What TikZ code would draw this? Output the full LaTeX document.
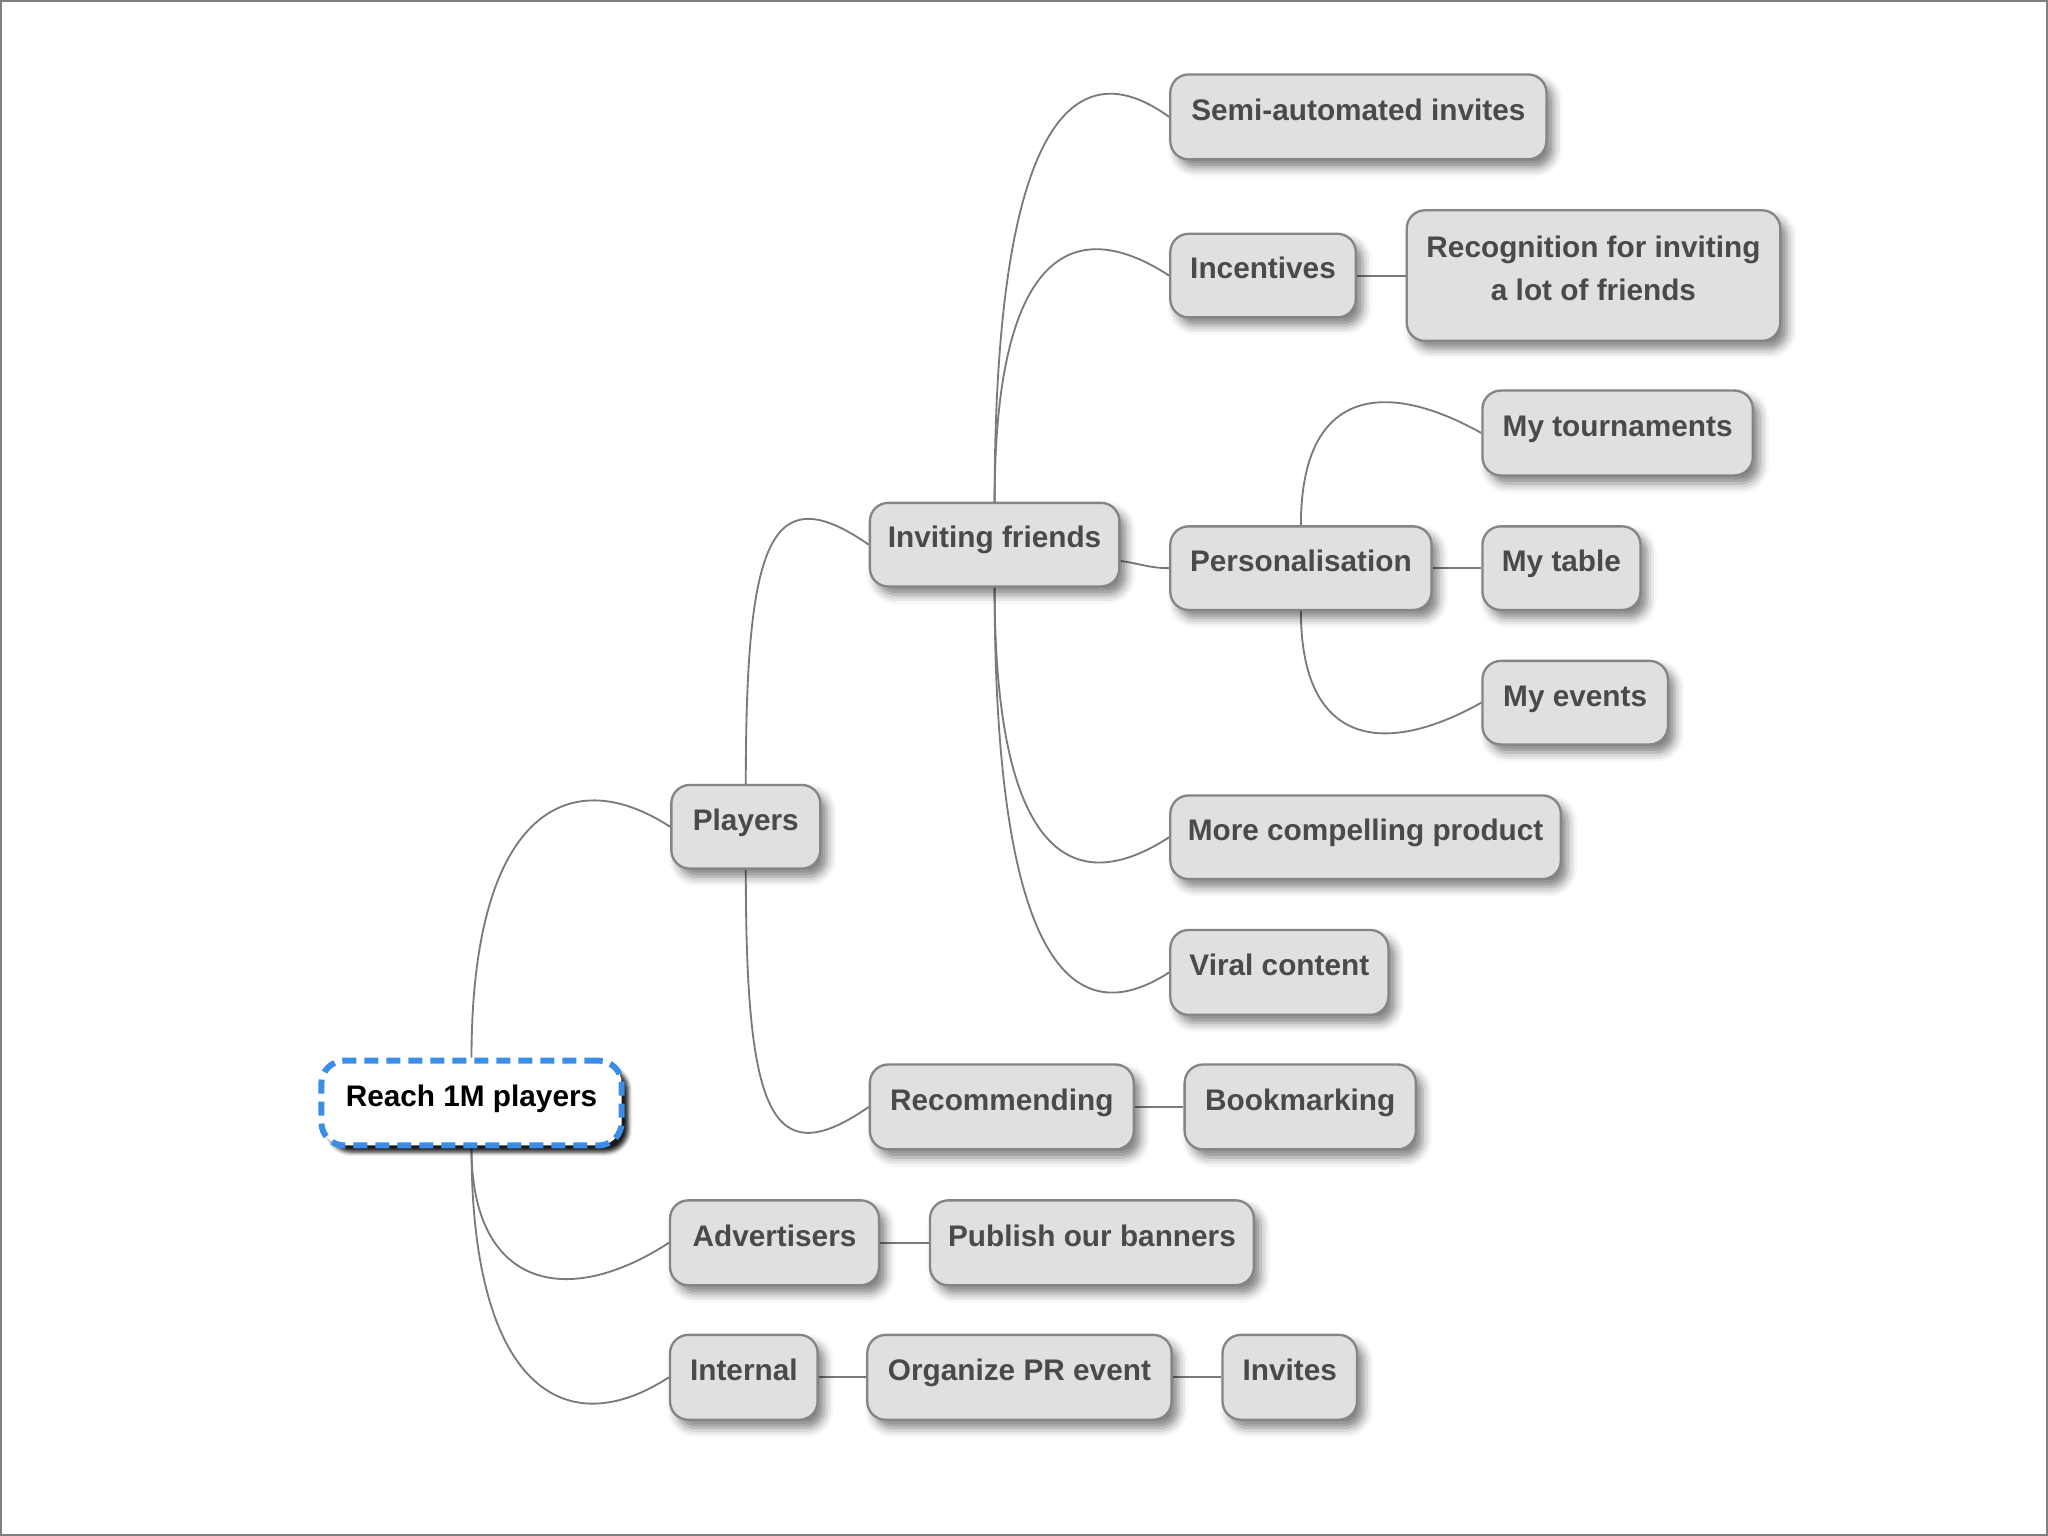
\documentclass[tikz,border=0pt]{standalone}
\usepackage{fontspec}
\newfontfamily\mmfamily{Liberation Sans}
\usetikzlibrary{shadows.blur}
\definecolor{boxgray}{HTML}{E0E0E0}
\definecolor{bordergray}{HTML}{858585}
\definecolor{textgray}{HTML}{4A4A4A}
\definecolor{linkgray}{HTML}{7A7A7A}
\definecolor{rootblue}{HTML}{3A8EE8}
\definecolor{framegray}{HTML}{7F7F7F}
\pgfdeclarelayer{background}
\pgfsetlayers{background,main}
\newcommand\mmbox[7]{\node[#1, minimum width={(#5-#3)*0.39184pt}, minimum height={(#6-#4)*0.39184pt}] (#2) at ({(#3+#5)/2},{(#4+#6)/2}) {#7};}
\tikzset{
  mmnode/.style={rectangle, rounded corners=5.5pt, draw=bordergray, line width=0.7pt,
    fill=boxgray, text=textgray, font=\mmfamily\bfseries\fontsize{8.93}{12.9}\selectfont,
    inner sep=0pt, text height=7pt, text depth=5pt,
    blur shadow={shadow xshift=2pt, shadow yshift=-2.4pt, shadow blur radius=2.8pt, shadow opacity=50}},
  mmmulti/.style={mmnode, text height={}, text depth={}, align=center},
  mmroot/.style={rectangle, rounded corners=7pt, draw=rootblue, line width=1.8pt,
    dash pattern=on 4.2pt off 2.4pt, fill=white, text=black,
    font=\mmfamily\bfseries\fontsize{8.93}{12.9}\selectfont,
    inner sep=0pt, text height=7pt, text depth=5pt,
    blur shadow={shadow xshift=2pt, shadow yshift=-2pt, shadow blur radius=1.2pt, shadow opacity=90}},
  mmlink/.style={draw=linkgray, line width=0.55pt},
}
\begin{document}
\begin{tikzpicture}[x=0.39184pt,y=-0.39184pt]
\useasboundingbox (0,0) rectangle (1568,1176);
\draw[framegray, line width=0.6pt] (0.75,0.75) rectangle (1567.25,1175.25);

\mmbox{mmroot}{root}{246}{812}{476}{877}{Reach 1M players}
\mmbox{mmnode}{players}{514}{601}{628}{665}{Players}
\mmbox{mmnode}{adv}{513}{919}{673}{984}{Advertisers}
\mmbox{mmnode}{internal}{513}{1022}{626}{1087}{Internal}
\mmbox{mmnode}{invfr}{666}{385}{857}{449}{Inviting friends}
\mmbox{mmnode}{recomm}{666}{815}{868}{880}{Recommending}
\mmbox{mmnode}{bookm}{907}{815}{1084}{880}{Bookmarking}
\mmbox{mmnode}{publish}{712}{919}{960}{984}{Publish our banners}
\mmbox{mmnode}{organize}{664}{1022}{897}{1087}{Organize PR event}
\mmbox{mmnode}{invites}{936}{1022}{1039}{1087}{Invites}
\mmbox{mmnode}{semi}{896}{57}{1184}{122}{Semi-automated invites}
\mmbox{mmnode}{incent}{896}{179}{1038}{243}{Incentives}
\mmbox{mmmulti}{recog}{1077}{161}{1363}{261}{Recognition for inviting\\a lot of friends\rule[-4.3pt]{0pt}{4.3pt}}
\mmbox{mmnode}{pers}{896}{403}{1096}{467}{Personalisation}
\mmbox{mmnode}{mytourn}{1135}{299}{1342}{364}{My tournaments}
\mmbox{mmnode}{mytable}{1135}{403}{1256}{467}{My table}
\mmbox{mmnode}{myevents}{1135}{506}{1277}{570}{My events}
\mmbox{mmnode}{morecomp}{896}{609}{1195}{673}{More compelling product}
\mmbox{mmnode}{viral}{896}{712}{1063}{777}{Viral content}

\begin{pgfonlayer}{background}
% curved branches
\draw[mmlink] (root.north) .. controls +(0,-184) and +(-80,-52) .. (players.west);
\draw[mmlink] (root.south) .. controls +(0,105) and +(-80,52) .. (adv.west);
\draw[mmlink] (root.south) .. controls +(0,182) and +(-80,52) .. (internal.west);
\draw[mmlink] (players.north) .. controls +(0,-188) and +(-75,-52) .. (invfr.west);
\draw[mmlink] (players.south) .. controls +(0,187) and +(-75,52) .. (recomm.west);
\draw[mmlink] (invfr.north) .. controls +(0,-272) and +(-80,-58) .. (semi.west);
\draw[mmlink] (invfr.north) .. controls +(0,-180) and +(-80,-52) .. (incent.west);
\draw[mmlink] (invfr.south) .. controls +(0,194) and +(-80,52) .. (morecomp.west);
\draw[mmlink] (invfr.south) .. controls +(0,272) and +(-80,52) .. (viral.west);
\draw[mmlink] (pers.north) .. controls +(0,-104) and +(-75,-42) .. (mytourn.west);
\draw[mmlink] (pers.south) .. controls +(0,103) and +(-75,42) .. (myevents.west);
% straight links
\draw[mmlink] ([yshift=-4.9pt]invfr.east) .. controls +(15,2) and +(-15,0) .. (pers.west);
\draw[mmlink] (incent.east) -- (recog.west);
\draw[mmlink] (pers.east) -- (mytable.west);
\draw[mmlink] (recomm.east) -- (bookm.west);
\draw[mmlink] (adv.east) -- (publish.west);
\draw[mmlink] (internal.east) -- (organize.west);
\draw[mmlink] (organize.east) -- (invites.west);
\end{pgfonlayer}
\end{tikzpicture}
\end{document}
